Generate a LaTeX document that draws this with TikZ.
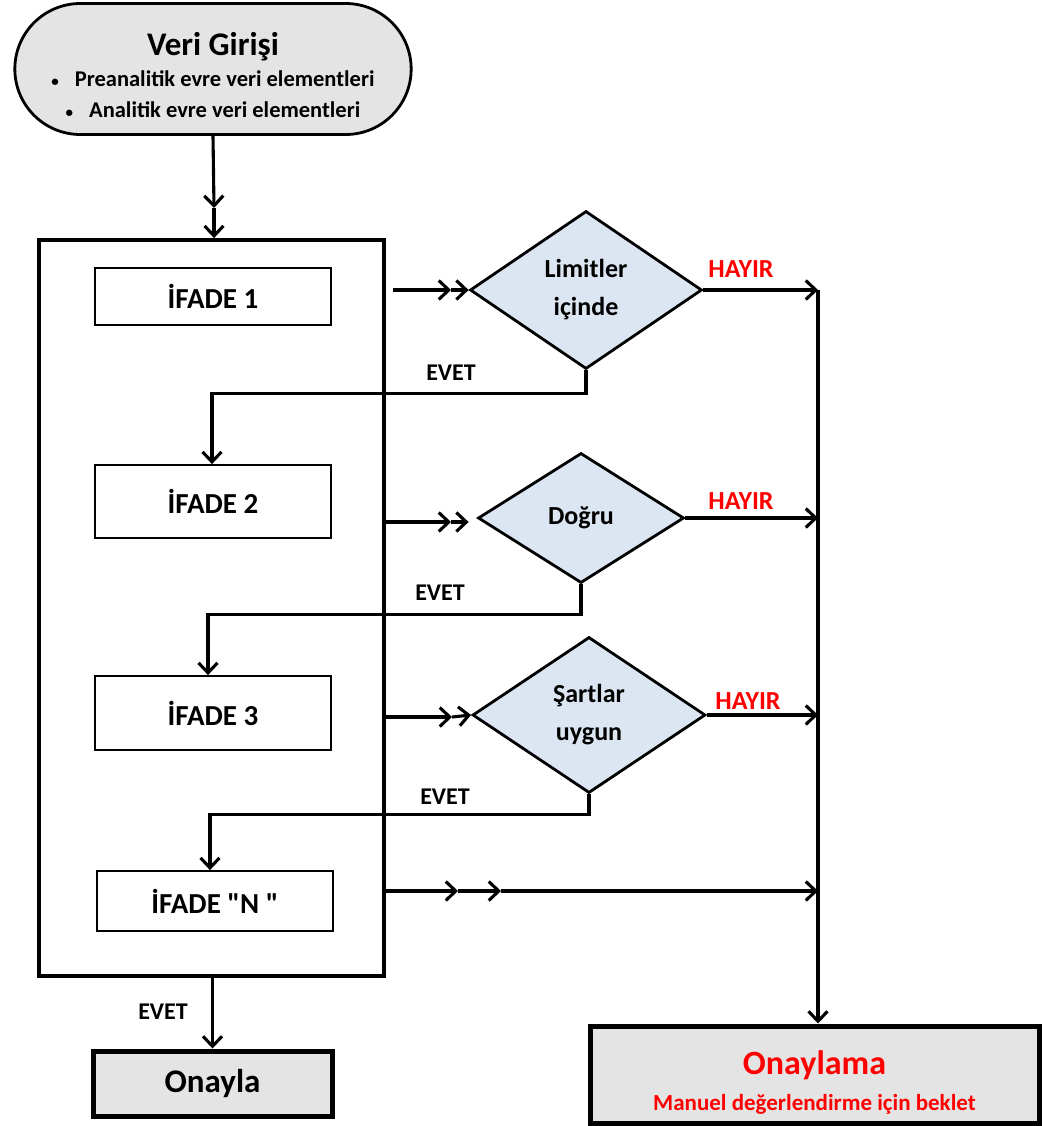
\documentclass[tikz,border=0pt]{standalone}
\usepackage{fontspec}
\setmainfont{Carlito}[Ligatures=TeXOff]
\usetikzlibrary{arrows.meta,shapes.geometric,shapes.misc}
\definecolor{boxgray}{HTML}{E4E4E4}
\definecolor{dfill}{HTML}{DCE6F2}
\definecolor{hred}{HTML}{FF0000}
\newcommand{\fs}[2]{\fontsize{#1}{#2}\selectfont}
\newcommand{\smallbullet}{{\fs{15}{15}\textbullet}}
\tikzset{
  >={Straight Barb[length=10pt,width=19pt]},
  conn/.style={line width=3.1pt,->},
  stmt/.style={draw,line width=1.8pt,fill=white,minimum width=236pt,font=\bfseries\fs{29}{34}},
  dec/.style={diamond,draw,line width=2.8pt,fill=dfill,inner sep=0pt,align=center,font=\bfseries\fs{26}{38}},
  lbl/.style={font=\bfseries\fs{24}{29}},
  nolbl/.style={font=\bfseries\fs{26}{30},text=hred},
}
\begin{document}
\begin{tikzpicture}[x=1pt,y=-1pt]
\useasboundingbox (0,0) rectangle (1041,1126);
% start terminal
\node[rounded rectangle,draw,line width=2.8pt,fill=boxgray,minimum width=403pt,minimum height=131pt,align=center,font=\bfseries\fs{22.5}{31}] (start) at (213,69)
  {\rule{0pt}{36pt}{\fs{33}{38}Veri Girişi}\\[0pt]
   \smallbullet\hspace{16pt}Preanalitik evre veri elementleri\\
   \smallbullet\hspace{16pt}Analitik evre veri elementleri};
% panel
\node[draw,line width=3.8pt,minimum width=345pt,minimum height=736pt] (panel) at (211.5,608) {};
% statements
\node[stmt,minimum height=57pt] (s1) at (213,296.5) {İFADE 1};
\node[stmt,minimum height=73pt] (s2) at (213,501.5) {İFADE 2};
\node[stmt,minimum height=74pt] (s3) at (213,713) {İFADE 3};
\node[stmt,minimum height=60pt] (sN) at (215,901) {İFADE "N "};
% decisions
\node[dec,minimum width=232pt,minimum height=158pt] (d1) at (586,290) {Limitler\\içinde};
\node[dec,minimum width=206pt,minimum height=130pt] (d2) at (581,518) {Doğru};
\node[dec,minimum width=233pt,minimum height=156pt] (d3) at (589,715) {Şartlar\\uygun};
% end boxes
\node[draw,line width=5pt,fill=boxgray,minimum width=239pt,minimum height=65pt,font=\bfseries\fs{33}{38}] (ok) at (212.5,1083.5) {Onayla};
\node[draw,line width=5pt,fill=boxgray,minimum width=449pt,minimum height=97pt,align=center,font=\bfseries\fs{23}{36},text=hred] (hold) at (814.5,1074.5)
  {\rule{0pt}{40pt}{\fs{34}{38}Onaylama}\\Manuel değerlendirme için beklet};
% coordinates
\coordinate (v1) at (818,290);
\coordinate (t1) at (214,208);
\coordinate (a1) at (393,290);
\coordinate (m1) at (451,290);
\coordinate (a2) at (385,522);
\coordinate (m2) at (451,522);
\coordinate (a3) at (385,717);
\coordinate (m3) at (452,717);
\coordinate (aN) at (383,891);
\coordinate (mN1) at (458,891);
\coordinate (mN2) at (501,891);
% top arrow
\draw[conn] (start.south) -- (t1);
\draw[conn] (t1) -- (panel.north -| t1);
% inputs to decisions
\draw[conn] (a1) -- (m1);
\draw[conn] (m1) -- (d1.west);
\draw[conn] (a2) -- (m2);
\draw[conn] (m2) -- ([xshift=-8pt]d2.west |- a2);
\draw[conn] (a3) -- (m3);
\draw[conn] (m3) -- (d3.west);
\draw[conn] (aN) -- (mN1);
\draw[conn] (mN1) -- (mN2);
\draw[conn] (mN2) -- (aN -| v1);
% HAYIR branches
\draw[conn] (d1.east) -- (d1.east -| v1);
\draw[conn] (d2.east) -- (d2.east -| v1);
\draw[conn] (d3.east) -- (d3.east -| v1);
\draw[conn] (v1) -- (hold.north -| v1);
% EVET branches
\draw[conn] (d1.south) -- ++(0,23) -| ([xshift=-1pt]s2.north);
\draw[conn] (d2.south) -- ++(0,30) -| ([xshift=-5pt]s3.north);
\draw[conn] (d3.south) -- ++(0,20) -| ([xshift=-5pt]sN.north);
\draw[conn] (panel.south -| ok) -- (ok.north);
% labels
\node[nolbl] (h1) at (741,269) {HAYIR};
\node[nolbl] (h2) at (741,501) {HAYIR};
\node[nolbl] (h3) at (748,701) {HAYIR};
\node[lbl] (e1) at (451,373) {EVET};
\node[lbl] (e2) at (440,593) {EVET};
\node[lbl] (e3) at (445,797) {EVET};
\node[lbl] (e4) at (163,1012) {EVET};
\end{tikzpicture}
\end{document}
